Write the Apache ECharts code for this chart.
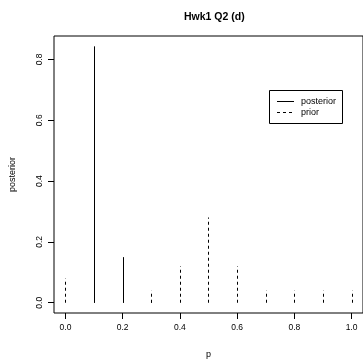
<!DOCTYPE html>
<html>
<head>
<meta charset="utf-8">
<script src="https://cdn.jsdelivr.net/npm/echarts@6/dist/echarts.min.js"></script>
<style>html,body{margin:0;padding:0;background:#fff}#c{width:363px;height:364px}</style>
</head>
<body>
<div id="c"></div>
<script>
var pValues = [0.0, 0.1, 0.2, 0.3, 0.4, 0.5, 0.6, 0.7, 0.8, 0.9, 1.0];
var posterior = [0.0, 0.843, 0.150, 0.007, 0.0003, 0.0, 0.0, 0.0, 0.0, 0.0, 0.0];
var prior = [0.08, 0.12, 0.08, 0.04, 0.12, 0.28, 0.12, 0.04, 0.04, 0.04, 0.04];
var xTicks = [0.0, 0.2, 0.4, 0.6, 0.8, 1.0];
var yTicks = [0.0, 0.2, 0.4, 0.6, 0.8];
var font = 'Liberation Sans, Arial, Helvetica, sans-serif';

function hSeries(name, vals, dash) {
  return {
    name: name,
    type: 'custom',
    data: pValues.map(function (p, i) { return [p, vals[i]]; }),
    encode: { x: 0, y: 1 },
    renderItem: function (params, api) {
      var a = api.coord([api.value(0), 0]);
      var b = api.coord([api.value(0), api.value(1)]);
      var x = Math.round(a[0]) + 0.5;
      return {
        type: 'line',
        shape: { x1: x, y1: a[1], x2: x, y2: b[1] },
        style: { stroke: '#000', lineWidth: 1, lineDash: dash }
      };
    },
    silent: true
  };
}

var chart = echarts.init(document.getElementById('c'), null, { renderer: 'canvas' });
chart.setOption({
  animation: false,
  backgroundColor: '#fff',
  title: {
    text: 'Hwk1 Q2 (d)',
    left: 179, top: 7,
    textStyle: { fontFamily: font, fontSize: 10.5, fontWeight: 'bold', color: '#000' }
  },
  grid: {
    left: 53, top: 36, width: 316, height: 282.4,
    show: true, borderColor: '#000', borderWidth: 1, backgroundColor: 'transparent'
  },
  xAxis: {
    type: 'value', min: -0.04, max: 1.04,
    name: 'p', nameLocation: 'middle', nameGap: 37,
    nameTextStyle: { fontFamily: font, fontSize: 9, color: '#000' },
    axisLine: { show: false, onZero: false },
    splitLine: { show: false },
    axisTick: { show: true, length: 6, customValues: xTicks, lineStyle: { color: '#000' } },
    axisLabel: { customValues: xTicks, fontFamily: font, fontSize: 8.5, color: '#000', margin: 10,
      formatter: function (v) { return v.toFixed(1); } }
  },
  yAxis: {
    type: 'value', min: -0.0337, max: 0.877,
    name: 'posterior', nameLocation: 'middle', nameGap: 37,
    nameTextStyle: { fontFamily: font, fontSize: 9, color: '#000' },
    axisLine: { show: false, onZero: false },
    splitLine: { show: false },
    axisTick: { show: true, length: 6, customValues: yTicks, lineStyle: { color: '#000' } },
    axisLabel: { customValues: yTicks, rotate: 90, fontFamily: font, fontSize: 8.5, color: '#000', margin: 10,
      formatter: function (v) { return v.toFixed(1); } }
  },
  graphic: [
    { type: 'rect', shape: { x: 269.5, y: 90.5, width: 73, height: 33 },
      style: { fill: '#fff', stroke: '#000', lineWidth: 1 } },
    { type: 'line', shape: { x1: 277, y1: 101.5, x2: 294, y2: 101.5 },
      style: { stroke: '#000', lineWidth: 1 } },
    { type: 'line', shape: { x1: 277, y1: 112.5, x2: 294, y2: 112.5 },
      style: { stroke: '#000', lineWidth: 1, lineDash: [3, 3] } },
    { type: 'text', x: 301, y: 101.5,
      style: { text: 'posterior', fontFamily: font, fontSize: 9, fill: '#000', textVerticalAlign: 'middle' } },
    { type: 'text', x: 301, y: 112.5,
      style: { text: 'prior', fontFamily: font, fontSize: 9, fill: '#000', textVerticalAlign: 'middle' } }
  ],
  series: [
    hSeries('posterior', posterior, null),
    hSeries('prior', prior, [3, 3])
  ]
});
</script>
</body>
</html>
